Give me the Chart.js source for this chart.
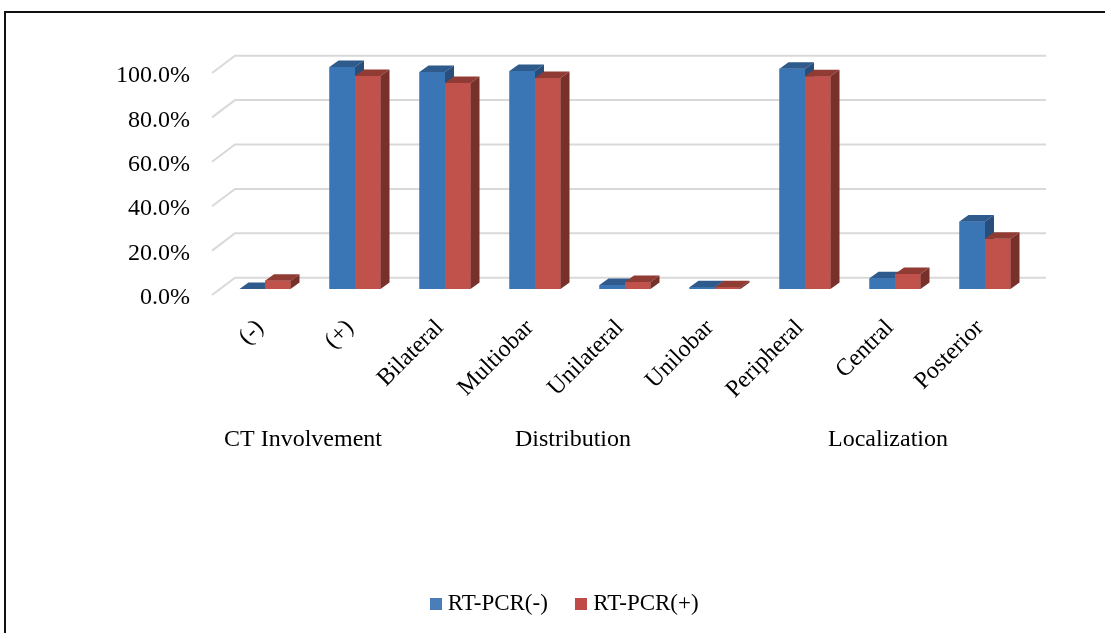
<!DOCTYPE html>
<html>
<head>
<meta charset="utf-8">
<script src="https://cdn.jsdelivr.net/npm/chart.js@4.4.1/dist/chart.umd.min.js"></script>
<style>
  html, body { margin: 0; padding: 0; background: #fff; overflow: hidden; }
  #wrap { position: relative; width: 1105px; height: 633px; overflow: hidden; }
  #frame { position: absolute; left: 4px; top: 11px; width: 1200px; height: 700px;
           border-top: 2px solid #111; border-left: 2px solid #111; }
  #c { position: absolute; left: 0; top: 0; }
</style>
</head>
<body>
<div id="wrap">
  <div id="frame"></div>
  <canvas id="c" width="1105" height="633"></canvas>
</div>
<script>
// Categories along the x axis and the group each belongs to
const categories = ['(-)', '(+)', 'Bilateral', 'Multiobar', 'Unilateral', 'Unilobar', 'Peripheral', 'Central', 'Posterior'];
const groupLabels = ['CT Involvement', 'Distribution', 'Localization'];
const groupFirst = [0, 2, 6];
const groupLast = [1, 5, 8];

// Percentages per series
const seriesNames = ['RT-PCR(-)', 'RT-PCR(+)'];
const rtPcrNegative = [0, 100, 97.8, 98.2, 1.8, 0.8, 99.2, 4.8, 30.4];
const rtPcrPositive = [3.7, 96, 92.8, 95, 3.1, 0.8, 95.8, 6.8, 22.6];

// Value axis ticks
const yMin = 0, yMax = 100, yStep = 20;

const FONT = "'Liberation Serif', 'Times New Roman', serif";

// Face colours for the extruded bars: front, top, right side
const faces = [
  { front: '#3A75B5', top: '#2E5A8C', side: '#294E7B', legend: '#4A7EBB' },
  { front: '#C0524B', top: '#913B35', side: '#78302A', legend: '#BE4B48' }
];
const depthX = 9, depthY = -6.5;

// Small square swatches for the legend
function swatch(color) {
  const c = document.createElement('canvas');
  c.width = 12; c.height = 12;
  const g = c.getContext('2d');
  g.fillStyle = color;
  g.fillRect(0, 0, 12, 12);
  return c;
}
const swatches = faces.map(f => swatch(f.legend));

// Back wall grid lines with the slanted lead-in from the front edge
const wallPlugin = {
  id: 'wall',
  beforeDatasetsDraw(chart) {
    const { ctx, chartArea: { left, right }, scales: { y } } = chart;
    ctx.save();
    ctx.strokeStyle = '#d9d9d9';
    ctx.lineWidth = 2;
    y.ticks.forEach(t => {
      const p = y.getPixelForValue(t.value);
      ctx.beginPath();
      ctx.moveTo(left - 8, p + 6);
      ctx.lineTo(left + 15, p - 11.3);
      ctx.lineTo(right + 16, p - 11.3);
      ctx.stroke();
    });
    ctx.restore();
  }
};

// Extruded look: front, top and side faces for every bar, drawn left to right
const boxPlugin = {
  id: 'boxes',
  afterDatasetsDraw(chart) {
    const ctx = chart.ctx;
    ctx.save();
    const metas = [chart.getDatasetMeta(0), chart.getDatasetMeta(1)];
    for (let i = 0; i < categories.length; i++) {
      metas.forEach((meta, d) => {
        const el = meta.data[i];
        const { x, y, base, width } = el.getProps(['x', 'y', 'base', 'width'], true);
        const l = x - width / 2, r = x + width / 2;
        const f = faces[d];
        ctx.fillStyle = f.front;
        ctx.fillRect(l, y, width, base - y);
        ctx.fillStyle = f.top;
        ctx.beginPath();
        ctx.moveTo(l, y);
        ctx.lineTo(l + depthX, y + depthY);
        ctx.lineTo(r + depthX, y + depthY);
        ctx.lineTo(r, y);
        ctx.closePath();
        ctx.fill();
        ctx.fillStyle = f.side;
        ctx.beginPath();
        ctx.moveTo(r, y);
        ctx.lineTo(r + depthX, y + depthY);
        ctx.lineTo(r + depthX, base + depthY);
        ctx.lineTo(r, base);
        ctx.closePath();
        ctx.fill();
      });
    }
    ctx.restore();
  }
};

// Group captions centred under their categories
const groupPlugin = {
  id: 'groups',
  afterDraw(chart) {
    const { ctx, scales: { x } } = chart;
    ctx.save();
    ctx.font = '24px ' + FONT;
    ctx.fillStyle = '#000';
    ctx.textAlign = 'center';
    ctx.textBaseline = 'middle';
    groupLabels.forEach((g, k) => {
      const cx = (x.getPixelForValue(groupFirst[k]) + x.getPixelForValue(groupLast[k])) / 2 - 7;
      ctx.fillText(g, cx, 440);
    });
    ctx.restore();
  }
};

new Chart(document.getElementById('c'), {
  type: 'bar',
  data: {
    labels: categories,
    datasets: [
      { label: seriesNames[0], data: rtPcrNegative, backgroundColor: faces[0].front },
      { label: seriesNames[1], data: rtPcrPositive, backgroundColor: faces[1].front }
    ]
  },
  options: {
    responsive: false,
    animation: false,
    devicePixelRatio: 1,
    categoryPercentage: 0.567,
    barPercentage: 1,
    layout: { padding: { top: 67, left: 104, right: 75, bottom: 7.5 } },
    plugins: {
      tooltip: { enabled: false },
      legend: {
        position: 'bottom',
        labels: {
          font: { family: FONT, size: 23 },
          color: '#000',
          usePointStyle: true,
          boxWidth: 1,
          boxHeight: 12,
          padding: 33,
          generateLabels(chart) {
            const items = Chart.defaults.plugins.legend.labels.generateLabels(chart);
            items.forEach(it => { it.pointStyle = swatches[it.datasetIndex]; });
            return items;
          }
        }
      }
    },
    scales: {
      x: {
        grid: { display: false },
        border: { display: false },
        ticks: {
          autoSkip: false,
          minRotation: 45,
          maxRotation: 45,
          padding: 17,
          labelOffset: -5,
          color: '#000',
          font: { family: FONT, size: 24 }
        },
        afterFit(s) { s.height = 270.5; }
      },
      y: {
        min: yMin,
        max: yMax,
        grid: { display: false },
        border: { display: false },
        ticks: {
          stepSize: yStep,
          padding: 22,
          labelOffset: 9,
          color: '#000',
          font: { family: FONT, size: 24 },
          callback: v => v.toFixed(1) + '%'
        },
        afterFit(s) { s.width = 116; }
      }
    }
  },
  plugins: [wallPlugin, boxPlugin, groupPlugin]
});
</script>
</body>
</html>
